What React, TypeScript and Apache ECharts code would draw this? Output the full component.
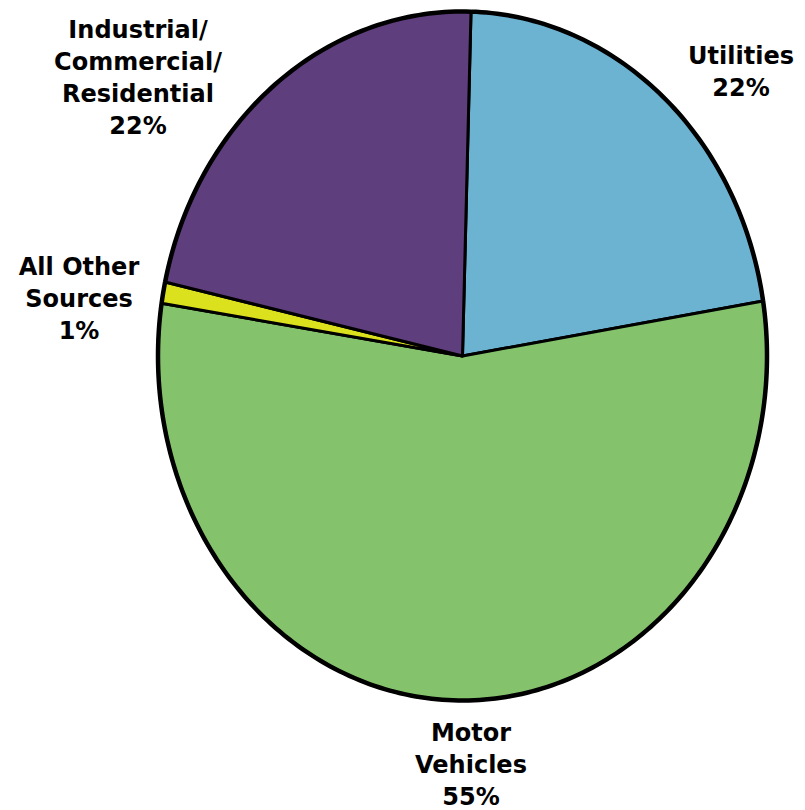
import React, { useEffect, useRef } from "react";
import * as echarts from "echarts";

// Data
const categories = ["Utilities", "Motor Vehicles", "All Other Sources", "Industrial/Commercial/Residential"];
const labelTexts = ["Utilities", "Motor\nVehicles", "All Other\nSources", "Industrial/\nCommercial/\nResidential"];
const shares = [22, 55, 1, 22];

// Styles / layout
const colors = ["#6cb2d1", "#84c36c", "#dbe11c", "#5f3e7d"];
const labelAnchors = [
  [741, 40],
  [471, 717],
  [79, 251],
  [138, 14],
];

export default function App() {
  const ref = useRef<HTMLDivElement>(null);
  useEffect(() => {
    const chart = echarts.init(ref.current as HTMLDivElement, null, { renderer: "svg" });
    const total = shares.reduce((a, b) => a + b, 0);
    const starts: number[] = [];
    let acc = 0;
    shares.forEach((v) => {
      starts.push(acc);
      acc += v;
    });
    const cx = 462.5;
    const cy = 356;
    const rx = 304.5;
    const ry = 344.5;
    const offset = 1.6;
    const pt = (deg: number) => {
      const r = (deg * Math.PI) / 180;
      return [cx + rx * Math.sin(r), cy - ry * Math.cos(r)];
    };
    chart.setOption({
      animation: false,
      series: [
        {
          type: "custom",
          coordinateSystem: "none",
          data: shares.map((v, i) => ({ name: categories[i], value: [v, starts[i]] })),
          renderItem: (params: any, api: any) => {
            const i = params.dataIndex;
            const v = api.value(0) as number;
            const s = api.value(1) as number;
            const a0 = offset + (s / total) * 360;
            const a1 = offset + ((s + v) / total) * 360;
            const n = Math.max(6, Math.ceil(a1 - a0));
            const arc: number[][] = [];
            for (let k = 0; k <= n; k++) arc.push(pt(a0 + ((a1 - a0) * k) / n));
            const [lx, ly] = labelAnchors[i];
            return {
              type: "group",
              children: [
                {
                  type: "polygon",
                  shape: { points: [[cx, cy], ...arc] },
                  style: { fill: colors[i], stroke: "#000", lineWidth: 3, lineJoin: "round" },
                },
                {
                  type: "polyline",
                  shape: { points: arc },
                  style: { fill: null, stroke: "#000", lineWidth: 4.5, lineJoin: "round" },
                  z2: 5,
                },
                {
                  type: "text",
                  x: lx,
                  y: ly,
                  style: {
                    text: labelTexts[i] + "\n" + v + "%",
                    fill: "#000",
                    fontFamily: "DejaVu Sans",
                    fontWeight: "bold",
                    fontSize: 24,
                    lineHeight: 32,
                    align: "center",
                    verticalAlign: "top",
                  },
                  z2: 10,
                },
              ],
            };
          },
        },
      ],
    });
    return () => chart.dispose();
  }, []);
  return (
    <div
      ref={ref}
      style={{ position: "absolute", left: 0, top: 0, width: 805, height: 810, background: "#fff" }}
    />
  );
}
